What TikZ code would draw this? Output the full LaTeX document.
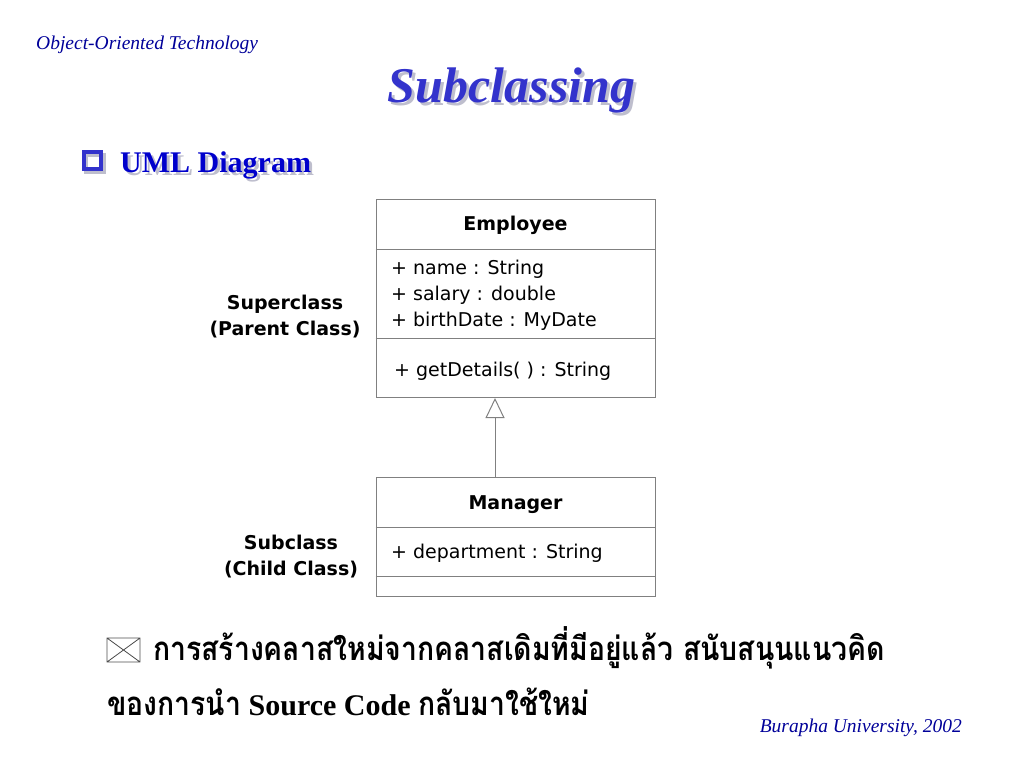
\documentclass[tikz,border=0pt]{standalone}
\usepackage{fontspec}
\setmainfont{Liberation Serif}
\newfontfamily\umlfont{DejaVu Sans}
\newfontfamily\thaifont[Script=Thai,FakeStretch=0.86]{Loma}
\usetikzlibrary{arrows.meta}
\definecolor{titleblue}{RGB}{51,51,204}
\definecolor{headblue}{RGB}{0,0,204}
\definecolor{noteblue}{RGB}{0,0,153}
\definecolor{shadowgray}{RGB}{190,190,205}
\definecolor{umlgray}{RGB}{128,128,128}
\begin{document}
\begin{tikzpicture}
[x=1pt,y=-1pt,
classbox/.style={draw=umlgray,line width=1pt,minimum width=279pt,inner sep=0pt},
member/.style={anchor=base west,inner sep=0pt,font=\umlfont\fontsize{19}{23}\selectfont},
classname/.style={anchor=base,inner sep=0pt,font=\umlfont\bfseries\fontsize{19}{23}\selectfont},
role/.style={align=center,inner sep=0pt,font=\umlfont\bfseries\fontsize{19}{26}\selectfont}]
\useasboundingbox (0,0) rectangle (1024,768);

\node[anchor=base west,inner sep=0pt,text=noteblue,font=\itshape\fontsize{19.5}{22}\selectfont] (h1) at (36,49) {Object-Oriented Technology};
\node[anchor=base,inner sep=0pt,text=shadowgray,font=\bfseries\itshape\fontsize{50}{56}\selectfont] (h2s) at (514.5,105) {Subclassing};
\node[anchor=base,inner sep=0pt,text=titleblue,font=\bfseries\itshape\fontsize{50}{56}\selectfont] (h2) at (511.5,102) {Subclassing};

\draw[shadowgray,line width=4pt] (86,154.5) rectangle (103.5,171.5);
\draw[titleblue,line width=4pt] (83.5,152) rectangle (101,169);
\node[anchor=base west,inner sep=0pt,text=shadowgray,font=\bfseries\fontsize{30}{34}\selectfont] (h3s) at (123,175) {UML Diagram};
\node[anchor=base west,inner sep=0pt,text=headblue,font=\bfseries\fontsize{30}{34}\selectfont] (h3) at (120,172) {UML Diagram};

\node[classbox,minimum height=198pt] (c1) at (515.5,298.5) {};
\node[classbox,minimum height=119pt] (c2) at (515.5,536.5) {};
\draw[umlgray,line width=1pt] (c1.west |- 0,249) -- (c1.east |- 0,249);
\draw[umlgray,line width=1pt] (c1.west |- 0,338.5) -- (c1.east |- 0,338.5);
\draw[umlgray,line width=1pt] (c2.west |- 0,527) -- (c2.east |- 0,527);
\draw[umlgray,line width=1pt] (c2.west |- 0,576.5) -- (c2.east |- 0,576.5);

\node[classname] (n1) at (515.5,230.5) {Employee};
\node[member] (a1) at (391,274) {+ name : String};
\node[member] (a2) at (391,300.5) {+ salary : double};
\node[member] (a3) at (391,326.5) {+ birthDate : MyDate};
\node[member] (m1) at (394,376.5) {+ getDetails( ) : String};
\node[classname] (n2) at (515.5,509.5) {Manager};
\node[member] (a4) at (391,558) {+ department : String};

\node[role] (r1) at (285,317) {Superclass\\(Parent Class)};
\node[role] (r2) at (291,557) {Subclass\\(Child Class)};

\draw[umlgray,line width=1pt,-{Triangle[open,length=20pt,width=19pt]}] (c2.north -| 495,0) -- (c1.south -| 495,0);

\draw[black!70,line width=.8pt] (107,638) rectangle (140,662) (107,638) -- (140,662) (107,662) -- (140,638);
\node[anchor=base west,inner sep=0pt,font=\thaifont\bfseries\fontsize{33}{38}\selectfont] (p1) at (153,660) {การสร้างคลาสใหม่จากคลาสเดิมที่มีอยู่แล้ว สนับสนุนแนวคิด};
\node[anchor=base west,inner sep=0pt,font=\bfseries\fontsize{30}{36}\selectfont] (p2) at (107,715) {{\fontsize{33}{38}\thaifont ของการนำ} Source Code {\fontsize{33}{38}\thaifont กลับมาใช้ใหม่}};

\node[anchor=base east,inner sep=0pt,text=noteblue,font=\itshape\fontsize{19.5}{22}\selectfont] (f1) at (962,732) {Burapha University, 2002};
\end{tikzpicture}
\end{document}
